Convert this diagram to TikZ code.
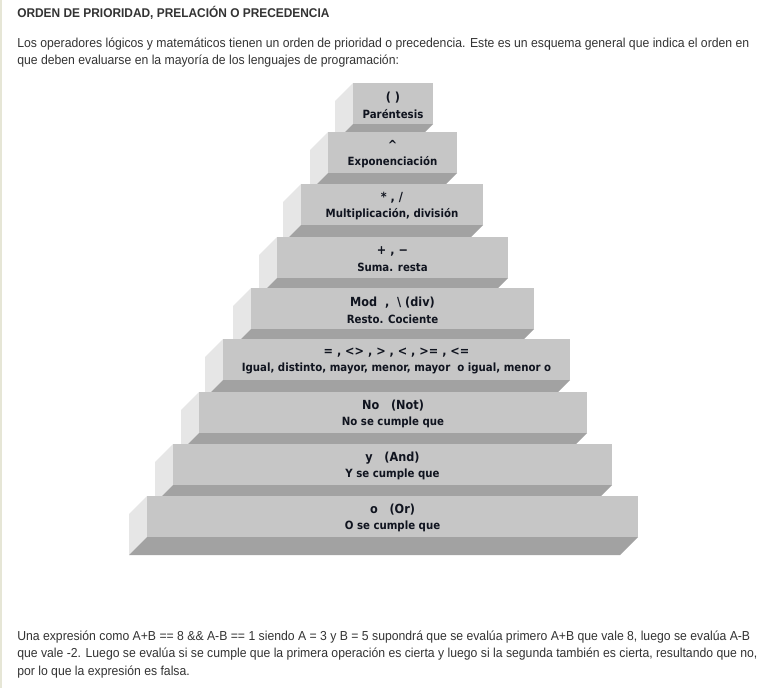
\documentclass[tikz,border=0pt]{standalone}
\usepackage{fontspec}
\setmainfont{Liberation Sans}[FakeStretch=0.94]
\newfontfamily\stepfont{DejaVu Sans}[FakeStretch=0.9]
\definecolor{pagetext}{HTML}{333333}
\definecolor{pagerule}{HTML}{E6E6D6}
\definecolor{stepfront}{HTML}{C6C6C6}
\definecolor{stepbottom}{HTML}{A2A2A2}
\definecolor{stepside}{HTML}{E6E6E6}
\definecolor{steptext}{HTML}{10141F}
\newcommand{\opline}{\fontsize{9.4}{12.5}\selectfont}
% one step of the pyramid: name, left, right, top, label
\newcommand{\pstep}[5]{%
  \fill[stepside] (#2,#4) -- (#2-18,#4+18) -- (#2-18,#4+59) -- (#2,#4+41) -- cycle;
  \fill[stepbottom] (#2,#4+41) -- (#3,#4+41) -- (#3-18,#4+59) -- (#2-18,#4+59) -- cycle;
  \fill[stepfront] (#2,#4) rectangle (#3,#4+41);
  \node[steplabel] (#1) at ({(#2+#3)/2},#4+22) {#5};}

\begin{document}
\begin{tikzpicture}[x=0.75pt, y=-0.75pt,
  bodytext/.style={text=pagetext, inner sep=0pt, anchor=base west, align=left, font=\fontsize{9.75}{12.9}\selectfont},
  steplabel/.style={text=steptext, inner sep=0pt, align=center, font=\stepfont\bfseries\fontsize{8.5}{12.5}\selectfont}]
\fill[white] (0,0) rectangle (764,688);
\useasboundingbox (0,0) rectangle (764,688);
\fill[pagerule] (0,0) rectangle (2,688);
\node[bodytext, font=\bfseries\fontsize{9.5}{12}\selectfont] (title) at (17,18) {ORDEN DE PRIORIDAD, PRELACIÓN O PRECEDENCIA};
% base anchor sits on the last line
\node[bodytext] (intro) at (17,65) {Los operadores lógicos y matemáticos tienen un orden de prioridad o precedencia. Este es un esquema general que indica el orden en\\que deben evaluarse en la mayoría de los lenguajes de programación:};

% pyramid, from the top step down
\pstep{paren}{353}{433}{83}{{\opline ( )}\\Paréntesis}
\pstep{expo}{328}{457}{132}{{\opline \textasciicircum}\\Exponenciación}
\pstep{mult}{301}{483}{184}{{\opline * , /}\\Multiplicación, división}
\pstep{suma}{277}{508}{237}{{\opline + , −}\\Suma. resta}
\pstep{modd}{251}{534}{288}{{\opline Mod\ \ ,\ \ \textbackslash\ (div)}\\Resto. Cociente}
\pstep{comp}{223}{570}{339}{{\opline = , <> , > , < , >= , <=}\\Igual, distinto, mayor, menor, mayor\ \ o igual, menor o}
\pstep{nott}{199}{587}{392}{{\opline No\ \ \ (Not)}\\No se cumple que}
\pstep{andd}{173}{612}{444}{{\opline y\ \ \ (And)}\\Y se cumple que}
\pstep{orr}{147}{638}{496}{{\opline o\ \ \ (Or)}\\O se cumple que}

\node[bodytext, font=\fontsize{9.75}{13.1}\selectfont] (outro) at (17,675) {Una expresión como A+B == 8 \&\& A-B == 1 siendo A = 3 y B = 5 supondrá que se evalúa primero A+B que vale 8, luego se evalúa A-B\\que vale -2. Luego se evalúa si se cumple que la primera operación es cierta y luego si la segunda también es cierta, resultando que no,\\por lo que la expresión es falsa.};
\end{tikzpicture}
\end{document}
